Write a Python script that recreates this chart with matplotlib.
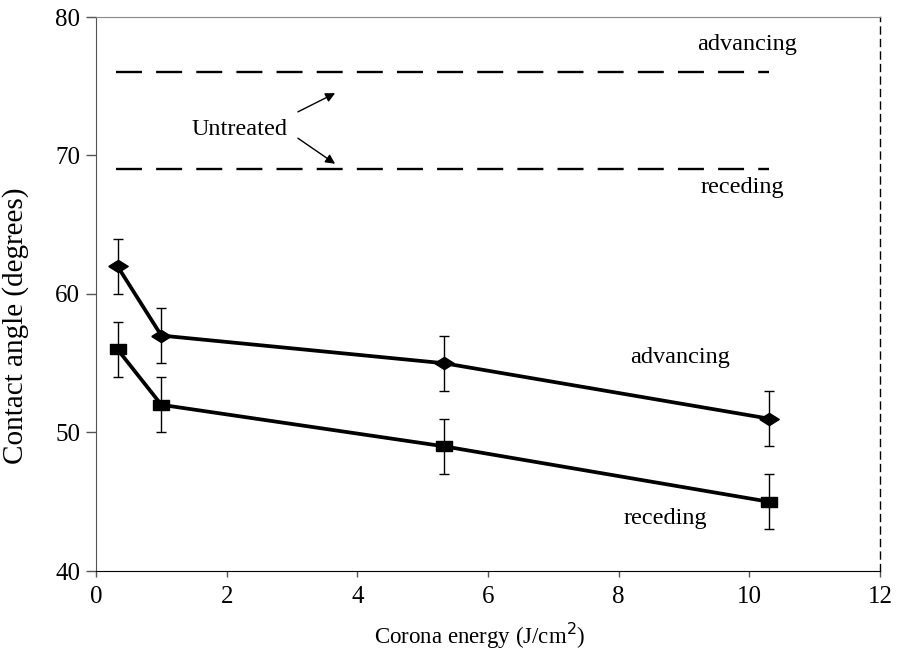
import matplotlib.pyplot as plt

plt.rcParams["font.family"] = ["Liberation Serif", "DejaVu Serif"]

energy = [0.33, 1.0, 5.33, 10.3]
advancing = [62, 57, 55, 51]
receding = [56, 52, 49, 45]
adv_err = [2, 2, 2, 2]
rec_err = [2, 2, 2, 2]

untreated_adv = 76
untreated_rec = 69
untreated_span = [0.3, 10.3]

# flattened diamond and rectangle markers
diamond = [(-1, 0), (0, 0.63), (1, 0), (0, -0.63), (-1, 0)]
block = [(-1, -0.68), (1, -0.68), (1, 0.68), (-1, 0.68), (-1, -0.68)]

fig = plt.figure(figsize=(9.01, 6.58), dpi=100)
ax = fig.add_axes([96 / 901, 87 / 658, 784 / 901, 554 / 658])

# untreated reference levels
for level in (untreated_adv, untreated_rec):
    ax.plot(untreated_span, [level, level], color="black", lw=1.7,
            dashes=(11, 6))

ax.errorbar(energy, advancing, yerr=adv_err, color="black", lw=2.7,
            marker=diamond, markersize=14, ecolor="black", elinewidth=1,
            capsize=3.3, capthick=1)
ax.errorbar(energy, receding, yerr=rec_err, color="black", lw=2.7,
            marker=block, markersize=11.5, ecolor="black", elinewidth=1,
            capsize=3.3, capthick=1)

ax.text(9.96, 78.0, "advancing", ha="center", va="center", fontsize=17.5)
ax.text(9.9, 67.7, "receding", ha="center", va="center", fontsize=17.5)
ax.text(8.94, 55.4, "advancing", ha="center", va="center", fontsize=17.5)
ax.text(8.72, 43.8, "receding", ha="center", va="center", fontsize=17.5)

ax.text(2.2, 71.9, "Untreated", ha="center", va="center", fontsize=17.5)
ax.annotate("", xy=(3.66, 74.5), xytext=(3.09, 73.15),
            arrowprops=dict(arrowstyle="-|>", color="black", lw=1,
                            mutation_scale=14, shrinkA=0, shrinkB=0))
ax.annotate("", xy=(3.66, 69.4), xytext=(3.09, 71.25),
            arrowprops=dict(arrowstyle="-|>", color="black", lw=1,
                            mutation_scale=14, shrinkA=0, shrinkB=0))

ax.set_xlim(0, 12)
ax.set_ylim(40, 80)
ax.set_xticks(range(0, 13, 2))
ax.set_yticks(range(40, 81, 10))
ax.tick_params(labelsize=18, width=1, color="#555555")
ax.tick_params(axis="y", length=7.5, pad=4)
ax.tick_params(axis="x", length=4, pad=7)

ax.spines["left"].set_color("#555555")
ax.spines["bottom"].set_color("black")
ax.spines["top"].set_color("#888888")
ax.spines["top"].set_linewidth(0.8)
ax.spines["right"].set_linestyle((0, (5, 4)))
ax.spines["right"].set_linewidth(1)

ax.set_xlabel("Corona energy (J/cm$^2$)", fontsize=16.5)
ax.set_ylabel("Contact angle (degrees)", fontsize=21)
ax.xaxis.set_label_coords(0.49, -0.09)
ax.yaxis.set_label_coords(-0.086, 0.442)

plt.savefig("out.png", dpi=100)
